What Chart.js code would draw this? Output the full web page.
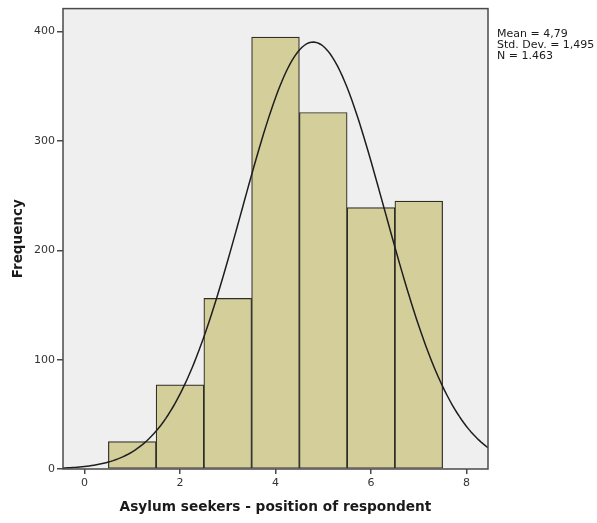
<!DOCTYPE html>
<html>
<head>
<meta charset="utf-8">
<script src="https://cdn.jsdelivr.net/npm/chart.js@4/dist/chart.umd.min.js"></script>
<style>
  html, body { margin: 0; padding: 0; background: #ffffff; }
  #wrap { width: 597px; height: 523px; }
</style>
</head>
<body>
<div id="wrap"><canvas id="histChart" width="597" height="523"></canvas></div>
<script>
// Histogram bins (score 1..7) and their counts
const binCenters = [1, 2, 3, 4, 5, 6, 7];
const binCounts = [25, 77, 156, 395, 326, 239, 245];

// Summary statistics shown next to the plot
const statMean = 4.79;
const statSd = 1.495;
const statN = 1463;
const statLines = ['Mean = 4,79', 'Std. Dev. = 1,495', 'N = 1.463'];

// Axis settings
const xRange = [-0.45, 8.45];
const yRange = [0, 421];
const xTicks = [0, 2, 4, 6, 8];
const yTicks = [0, 100, 200, 300, 400];

// Normal curve scaled to the histogram (bin width 1)
const curveX = [];
for (let x = xRange[0]; x <= xRange[1] + 1e-9; x += 0.05) curveX.push(+x.toFixed(2));
const curvePoints = curveX.map(x => ({
    x: x,
    y: statN / (statSd * Math.sqrt(2 * Math.PI)) * Math.exp(-0.5 * Math.pow((x - statMean) / statSd, 2))
}));

const barPoints = binCenters.map((c, i) => ({ x: c, y: binCounts[i] }));

const FONT = "'DejaVu Sans', sans-serif";

// Grey plot background, frame and stats text
const spssFrame = {
    id: 'spssFrame',
    beforeDatasetsDraw(chart) {
        const { ctx, chartArea: a } = chart;
        ctx.save();
        ctx.fillStyle = '#efefef';
        ctx.fillRect(a.left, a.top, a.right - a.left, a.bottom - a.top);
        ctx.restore();
    },
    afterDraw(chart) {
        const { ctx, chartArea: a } = chart;
        ctx.save();
        ctx.strokeStyle = '#4a4a4a';
        ctx.lineWidth = 1.5;
        ctx.strokeRect(a.left, a.top, a.right - a.left, a.bottom - a.top);

        ctx.fillStyle = '#1a1a1a';
        ctx.font = '11px ' + FONT;
        ctx.textBaseline = 'alphabetic';
        ctx.textAlign = 'left';
        statLines.forEach((t, i) => ctx.fillText(t, a.right + 9, 37 + i * 11));
        ctx.restore();
    }
};

new Chart(document.getElementById('histChart'), {
    type: 'bar',
    data: {
        datasets: [
            {
                type: 'line',
                data: curvePoints,
                borderColor: '#1e1e1e',
                borderWidth: 1.5,
                pointRadius: 0,
                tension: 0,
                order: 0
            },
            {
                type: 'bar',
                data: barPoints,
                backgroundColor: '#d3ce9a',
                borderColor: '#2e2e28',
                borderWidth: 1.2,
                borderSkipped: false,
                barPercentage: 1,
                categoryPercentage: 1,
                order: 1
            }
        ]
    },
    options: {
        responsive: false,
        animation: false,
        layout: { padding: { top: 6, right: 109, left: 0, bottom: 0 } },
        plugins: {
            legend: { display: false },
            tooltip: { enabled: false }
        },
        scales: {
            x: {
                type: 'linear',
                min: xRange[0],
                max: xRange[1],
                offset: false,
                afterBuildTicks: (scale) => {
                    scale.ticks = xTicks.map(v => ({ value: v }));
                },
                ticks: {
                    color: '#333',
                    font: { family: FONT, size: 11 },
                    padding: 3,
                    maxRotation: 0
                },
                grid: { offset: false, drawOnChartArea: false, drawTicks: true, tickLength: 5, color: '#4a4a4a', lineWidth: 1.5 },
                border: { display: false },
                title: {
                    display: true,
                    text: 'Asylum seekers - position of respondent',
                    color: '#1a1a1a',
                    font: { family: FONT, size: 13.7, weight: 'bold' },
                    padding: { top: 0, bottom: 7 }
                },
                afterFit: (scale) => { scale.height = 54; }
            },
            y: {
                min: yRange[0],
                max: yRange[1],
                afterBuildTicks: (scale) => {
                    scale.ticks = yTicks.map(v => ({ value: v }));
                },
                ticks: {
                    color: '#333',
                    font: { family: FONT, size: 11 },
                    padding: 2
                },
                grid: { drawOnChartArea: false, drawTicks: true, tickLength: 6, color: '#4a4a4a', lineWidth: 1.5 },
                border: { display: false },
                title: {
                    display: true,
                    text: 'Frequency',
                    color: '#1a1a1a',
                    font: { family: FONT, size: 13.5, weight: 'bold' },
                    padding: { top: 10, bottom: 0 }
                },
                afterFit: (scale) => { scale.width = 63; }
            }
        }
    },
    plugins: [spssFrame]
});
</script>
</body>
</html>
